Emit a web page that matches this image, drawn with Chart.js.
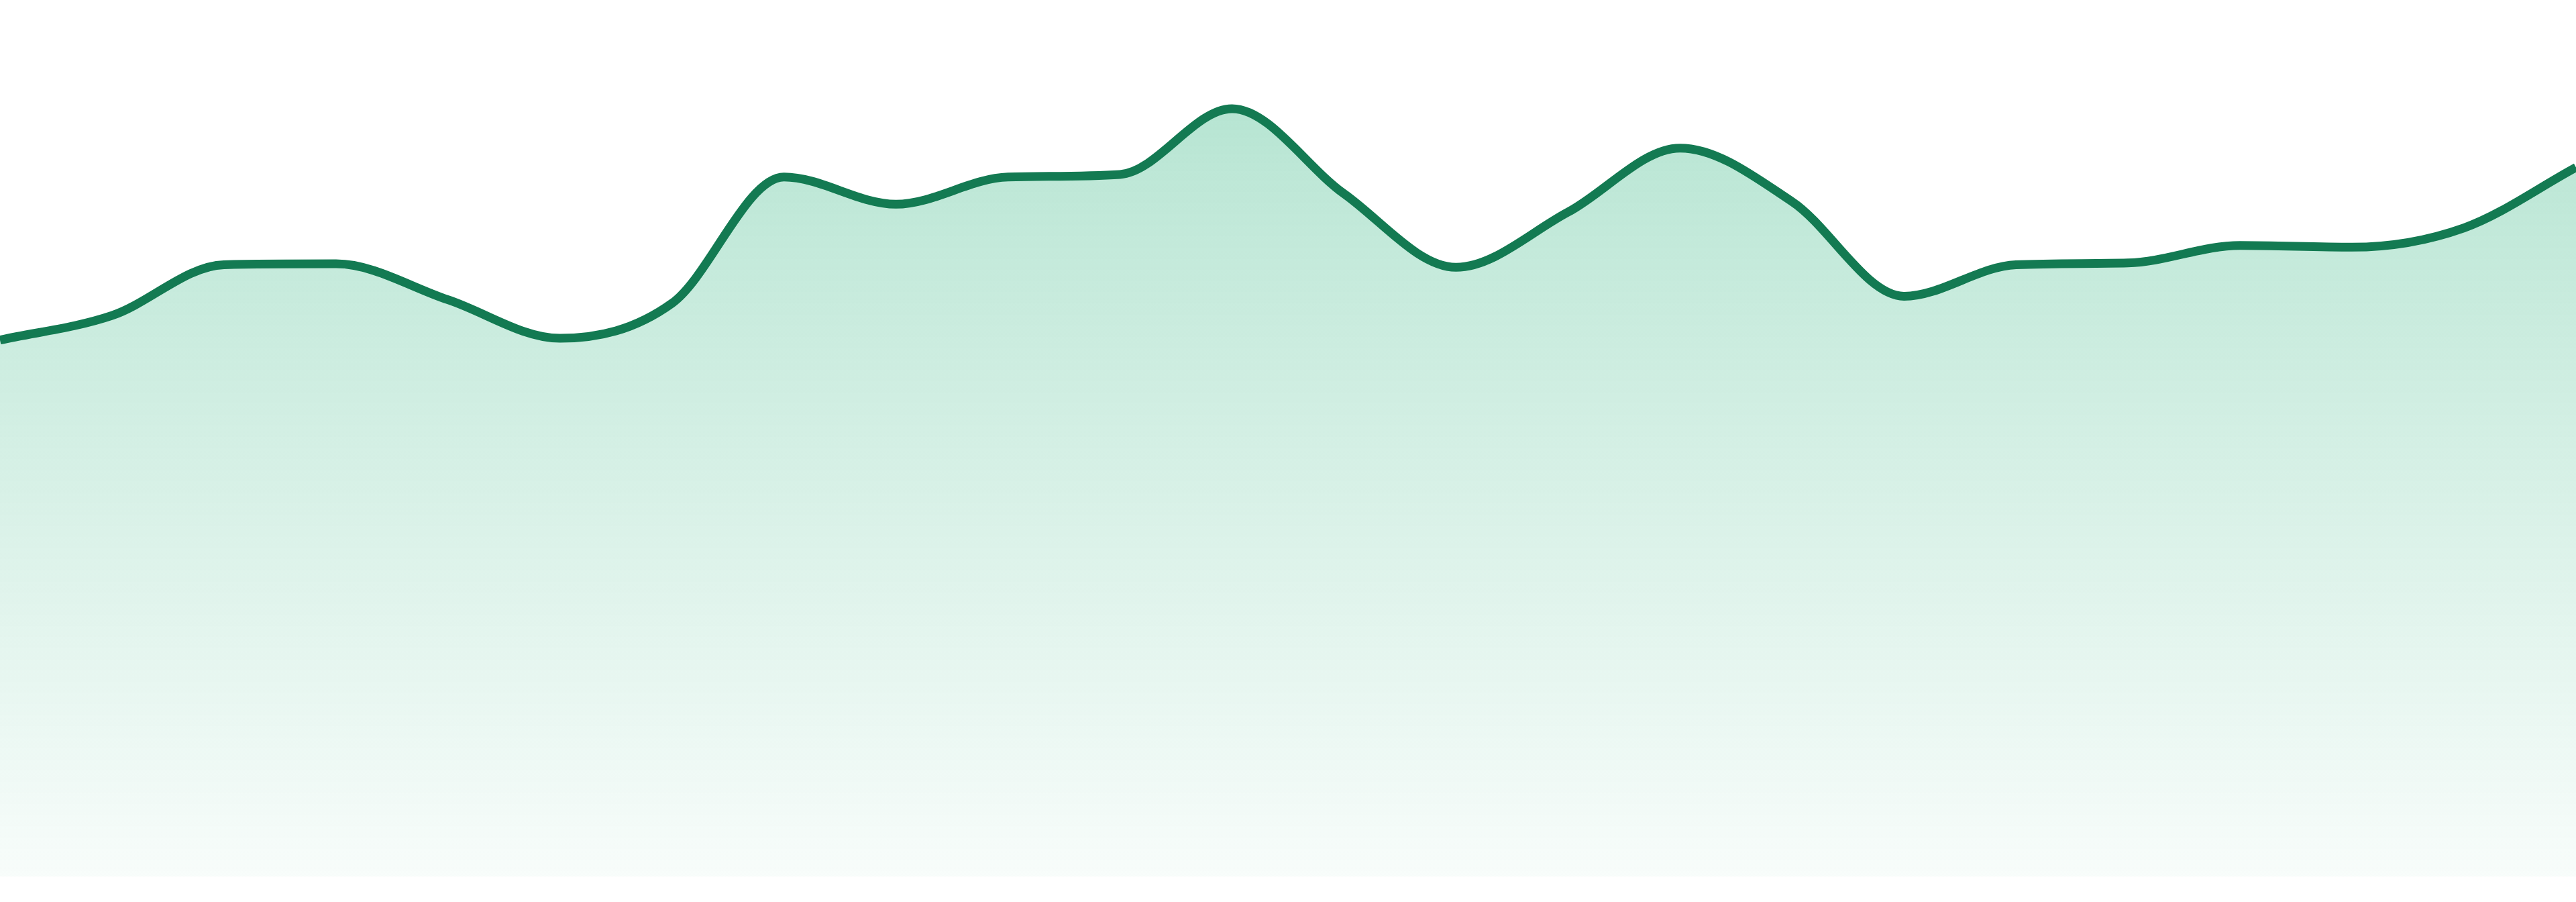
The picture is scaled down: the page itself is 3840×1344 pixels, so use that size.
<!DOCTYPE html>
<html>
<head>
<meta charset="utf-8">
<script src="https://cdn.jsdelivr.net/npm/chart.js@4.4.1/dist/chart.umd.min.js"></script>
<style>
  html, body { margin: 0; padding: 0; background: #ffffff; }
  .chart__wrap { width: 3840px; height: 1344px; position: relative; }
</style>
</head>
<body>
<div class="chart__wrap"><canvas id="trend"></canvas></div>
<script>
const labels = ['1', '2', '3', '4', '5', '6', '7', '8', '9', '10', '11', '12',
  '13', '14', '15', '16', '17', '18', '19', '20', '21', '22', '23', '24'];
const values = [61.2, 64.0, 69.8, 69.9, 65.8, 61.4, 65.4, 79.8, 76.7, 79.8, 80.1, 87.6,
  77.9, 69.5, 75.8, 83.1, 77.0, 66.2, 69.8, 70.0, 72.0, 71.8, 74.0, 80.9];
const yMin = 0
const yMax = 100

const canvas = document.getElementById('trend');

// fill fades from soft green at the top to almost white at the bottom
function areaFill(context) {
  const area = context.chart.chartArea;
  if (!area) return 'rgba(20, 170, 110, 0.28)';
  const g = context.chart.ctx.createLinearGradient(0, area.top, 0, area.bottom);
  g.addColorStop(0, 'rgba(20, 170, 110, 0.36)');
  g.addColorStop(0.2, 'rgba(20, 170, 110, 0.28)');
  g.addColorStop(1, 'rgba(20, 170, 110, 0.03)');
  return g;
}

new Chart(canvas, {
  type: 'line',
  data: {
    labels: labels,
    datasets: [{
      data: values,
      borderColor: '#137a52',
      borderWidth: 13,
      backgroundColor: areaFill,
      fill: 'start',
      cubicInterpolationMode: 'monotone',
      pointRadius: 0,
      pointHoverRadius: 0
    }]
  },
  options: {
    responsive: true,
    maintainAspectRatio: false,
    animation: false,
    layout: { padding: { top: 0, bottom: 38, left: 0, right: 0 } },
    scales: {
      x: { display: false, offset: false },
      y: { display: false, min: yMin, max: yMax }
    },
    plugins: {
      legend: { display: false },
      tooltip: { enabled: false }
    }
  }
});
</script>
</body>
</html>
